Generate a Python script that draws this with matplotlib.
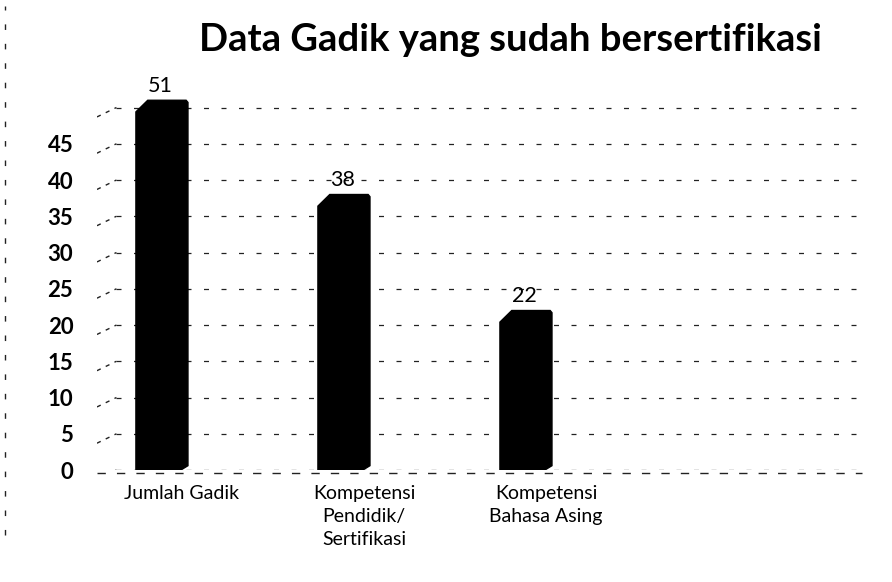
import matplotlib
matplotlib.use("Agg")
import matplotlib.pyplot as plt
from matplotlib.lines import Line2D

plt.rcParams["font.family"] = ["Lato", "DejaVu Sans"]

# data
categories = ["Jumlah Gadik", "Kompetensi\nPendidik/\nSertifikasi", "Kompetensi\nBahasa Asing"]
values = [51, 38, 22]
y_ticks = [0, 5, 10, 15, 20, 25, 30, 35, 40, 45]
grid_levels = y_ticks + [50]
title = "Data Gadik yang sudah bersertifikasi"

fig = plt.figure(figsize=(8.92, 5.82), dpi=100)
ax = fig.add_axes([0.1087, 0.1924, 0.8576, 0.6615])

bar_w = 0.286
wall_x = -0.25          # where the back wall starts
ax.set_xlim(-0.357, 3.846)
ax.set_ylim(0, 53.1)

# side wall + back wall dashed grid
for lv in grid_levels:
    ax.plot([-0.357, wall_x], [lv - 1.3, lv], color="#222222", lw=1.0,
            ls=(0, (3, 4)), zorder=1)
    ax.hlines(lv, wall_x, 3.846, color="#222222", lw=0.9,
              linestyles=(0, (4, 10)), zorder=1)
# front floor edge
ax.hlines(-0.4, -0.357, 3.846, color="#222222", lw=1.0,
          linestyles=(0, (6, 8)), zorder=1, clip_on=False)

# bars with a chamfered top-left corner (3D look)
cx, cy = 0.065, 1.6
for i, v in enumerate(values):
    x0, x1 = i - bar_w / 2, i + bar_w / 2
    xs = [x0, x0, x0 + cx, x1 - 0.01, x1, x1, x1 - cx * 0.6, x0]
    ys = [0, v - cy, v, v, v - 0.3, 0.6, 0, 0]
    ax.fill(xs, ys, color="black", zorder=3)
    ax.annotate(str(v), (i - 0.01, v), xytext=(0, 3), textcoords="offset points",
                ha="center", va="bottom", fontsize=15.5, color="black", zorder=4)

ax.set_yticks(y_ticks)
ax.set_yticklabels([str(t) for t in y_ticks], fontsize=16, fontweight="bold")
ax.set_xticks([i + 0.11 for i in range(len(categories))])
ax.set_xticklabels(categories, fontsize=14, linespacing=1.4)
ax.tick_params(axis="y", length=0, pad=17)
ax.tick_params(axis="x", length=0, pad=11)
for sp in ax.spines.values():
    sp.set_visible(False)

fig.text(0.572, 0.931, title, ha="center", va="center",
         fontsize=27.5, fontweight="bold", color="black")

# scanned page edge on the left
fig.add_artist(Line2D([0.006, 0.006], [0.08, 0.99], color="#222222", lw=1,
                      ls=(0, (4, 10))))

fig.savefig("out.png", dpi=100, facecolor="white")
